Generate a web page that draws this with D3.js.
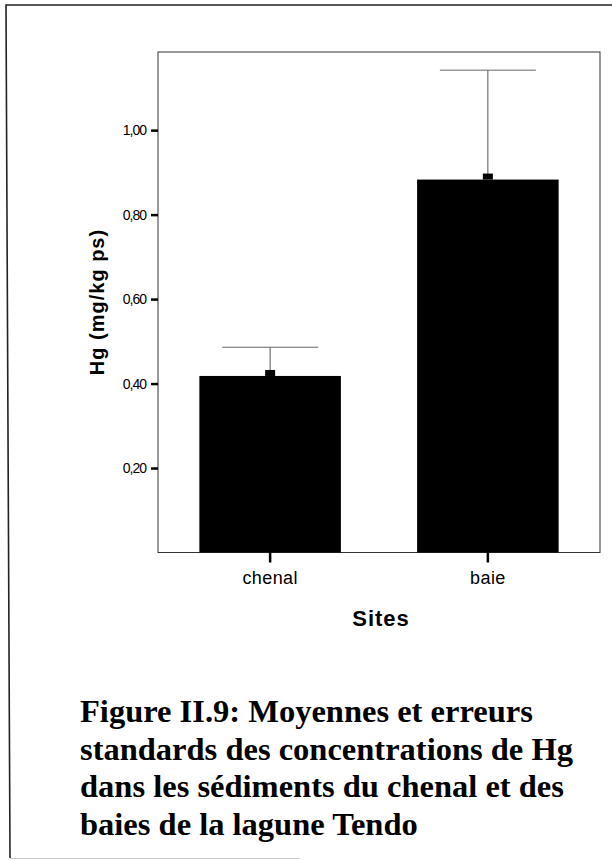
<!DOCTYPE html>
<html lang="fr">
<head>
<meta charset="utf-8">
<title>Figure II.9</title>
<script src="https://cdn.jsdelivr.net/npm/d3@7"></script>
<style>
  body { margin: 0; background: #fff; }
  svg { display: block; }
</style>
</head>
<body>
<div id="grafico"></div>
<script>
// Donnees
const sites = ['chenal', 'baie'];
const moyennes = [0.418, 0.883];
const erreurs = [0.068, 0.259];
const graduations = [0.2, 0.4, 0.6, 0.8, 1.0];
const legende = [
  'Figure II.9: Moyennes et erreurs',
  'standards des concentrations de Hg',
  'dans les sédiments du chenal et des',
  'baies de la lagune Tendo'
];

const width = 612;
const height = 860;

// Zone du graphique
const gauche = 158;
const droite = 600;
const haut = 52;
const bas = 552.5;

const svg = d3.select('#grafico').append('svg')
  .attr('width', width)
  .attr('height', height);

svg.append('rect')
  .attr('width', width)
  .attr('height', height)
  .attr('fill', '#fff');

// Cadre exterieur (scan un peu penche)
svg.append('path')
  .attr('d', 'M612,5 L6,5 L10,858')
  .attr('fill', 'none')
  .attr('stroke', '#222')
  .attr('stroke-width', 1.6);
svg.append('line')
  .attr('x1', 10).attr('y1', 858.5).attr('x2', 300).attr('y2', 858.5)
  .attr('stroke', '#ccc')
  .attr('stroke-width', 1);

const x = d3.scaleBand()
  .domain(sites)
  .range([gauche, droite])
  .paddingInner(0.35)
  .paddingOuter(0.19);

const y = d3.scaleLinear()
  .domain([0, 1.185])
  .range([bas, haut]);

// Cadre du graphique
svg.append('rect')
  .attr('x', gauche)
  .attr('y', haut)
  .attr('width', droite - gauche)
  .attr('height', bas - haut)
  .attr('fill', 'none')
  .attr('stroke', '#333')
  .attr('stroke-width', 1);

// Barres
svg.selectAll('.barre')
  .data(sites)
  .enter()
  .append('rect')
  .attr('class', 'barre')
  .attr('x', d => x(d))
  .attr('y', (d, i) => y(moyennes[i]))
  .attr('width', x.bandwidth())
  .attr('height', (d, i) => y(0) - y(moyennes[i]))
  .attr('fill', '#000');

// Barres d'erreur
const centre = d => x(d) + x.bandwidth() / 2;

svg.selectAll('.erreur')
  .data(sites)
  .enter()
  .append('line')
  .attr('class', 'erreur')
  .attr('x1', centre)
  .attr('x2', centre)
  .attr('y1', (d, i) => y(moyennes[i]))
  .attr('y2', (d, i) => y(moyennes[i] + erreurs[i]))
  .attr('stroke', '#555')
  .attr('stroke-width', 1);

svg.selectAll('.chapeau')
  .data(sites)
  .enter()
  .append('line')
  .attr('class', 'chapeau')
  .attr('x1', d => centre(d) - 48)
  .attr('x2', d => centre(d) + 48)
  .attr('y1', (d, i) => y(moyennes[i] + erreurs[i]))
  .attr('y2', (d, i) => y(moyennes[i] + erreurs[i]))
  .attr('stroke', '#666')
  .attr('stroke-width', 1);

// Petit marqueur de la moyenne
svg.selectAll('.marqueur')
  .data(sites)
  .enter()
  .append('rect')
  .attr('class', 'marqueur')
  .attr('x', d => centre(d) - 5)
  .attr('y', (d, i) => y(moyennes[i]) - 6)
  .attr('width', 10)
  .attr('height', 6)
  .attr('fill', '#000');

// Axe Y
const axeY = d3.axisLeft(y)
  .tickValues(graduations)
  .tickSize(7)
  .tickPadding(5)
  .tickFormat(d => d3.format('.2f')(d).replace('.', ','));

const gY = svg.append('g')
  .attr('transform', `translate(${gauche},0)`)
  .call(axeY);
gY.select('.domain').remove();
gY.selectAll('.tick line')
  .attr('stroke', '#000')
  .attr('stroke-width', 2.5);
gY.selectAll('.tick text')
  .attr('fill', '#000')
  .style('font-family', '"Liberation Sans", Arial, sans-serif')
  .style('font-size', '14px')
  .style('letter-spacing', '-1px');

// Axe X
const axeX = d3.axisBottom(x)
  .tickSize(10)
  .tickPadding(9);

const gX = svg.append('g')
  .attr('transform', `translate(0,${bas})`)
  .call(axeX);
gX.select('.domain').remove();
gX.selectAll('.tick line')
  .attr('stroke', '#000')
  .attr('stroke-width', 2.5);
gX.selectAll('.tick text')
  .attr('fill', '#000')
  .style('font-family', '"Liberation Sans", Arial, sans-serif')
  .style('font-size', '18px')
  .style('letter-spacing', '0.4px');

// Titres des axes
svg.append('text')
  .attr('x', 381)
  .attr('y', 626)
  .attr('text-anchor', 'middle')
  .style('font-family', '"Liberation Sans", Arial, sans-serif')
  .style('font-weight', 'bold')
  .style('font-size', '22px')
  .style('letter-spacing', '1px')
  .text('Sites');

svg.append('text')
  .attr('transform', 'translate(104,302) rotate(-90)')
  .attr('text-anchor', 'middle')
  .style('font-family', '"Liberation Sans", Arial, sans-serif')
  .style('font-weight', 'bold')
  .style('font-size', '20px')
  .style('letter-spacing', '1px')
  .text('Hg (mg/kg ps)');

// Legende de la figure
svg.selectAll('.legende')
  .data(legende)
  .enter()
  .append('text')
  .attr('class', 'legende')
  .attr('x', 80)
  .attr('y', (d, i) => 722 + i * 37.7)
  .style('font-family', '"Liberation Serif", "Times New Roman", serif')
  .style('font-weight', 'bold')
  .style('font-size', '32.5px')
  .text(d => d);
</script>
</body>
</html>
